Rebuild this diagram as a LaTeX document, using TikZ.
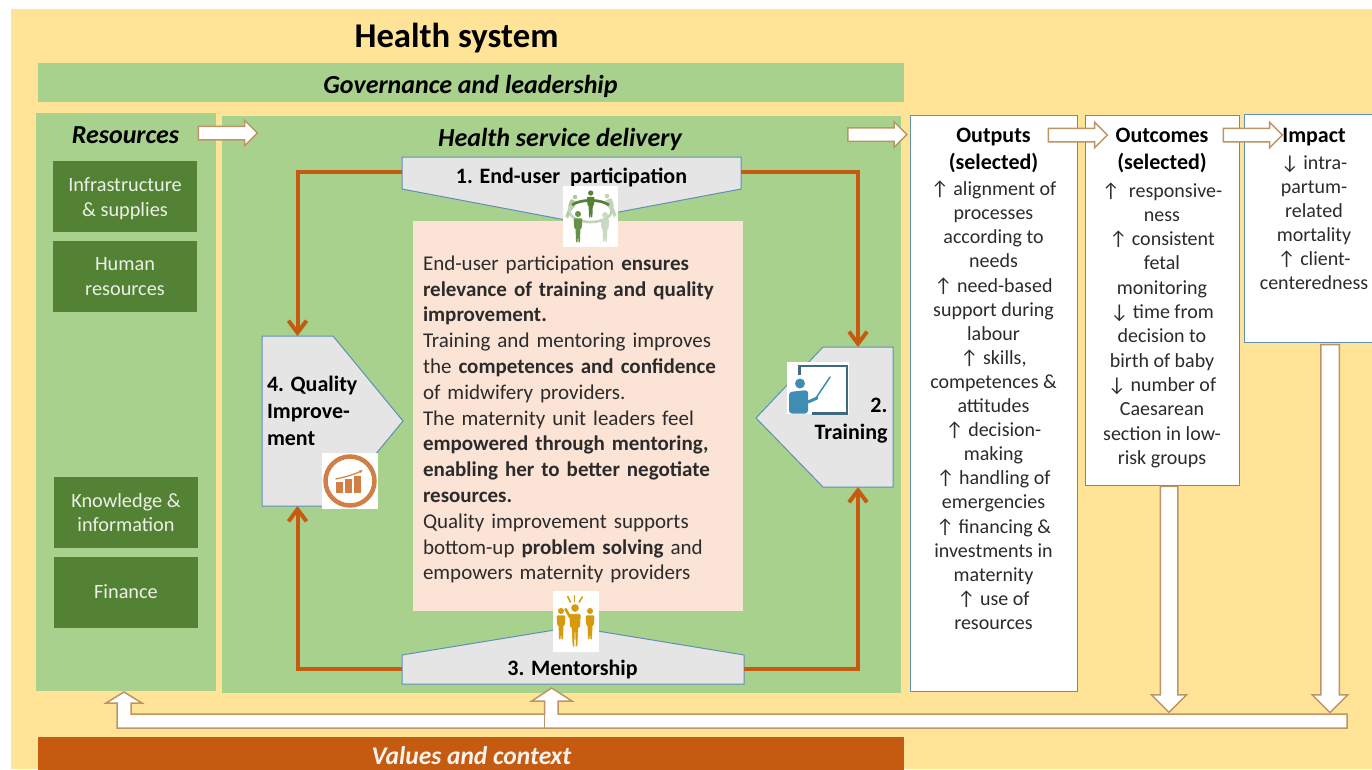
\documentclass[tikz,border=0pt]{standalone}
\usepackage{fontspec}
\setmainfont{Carlito}
\usetikzlibrary{positioning, arrows.meta, shapes.arrows}
\definecolor{sysyellow}{HTML}{FFE396}
\definecolor{lightgreen}{HTML}{A9D18E}
\definecolor{darkgreen}{HTML}{548235}
\definecolor{burnt}{HTML}{C55A11}
\definecolor{peach}{HTML}{FBE3D6}
\definecolor{stagegray}{HTML}{E5E5E5}
\definecolor{edgeblue}{HTML}{5F8FB5}
\definecolor{arrowtan}{HTML}{BD9466}
\definecolor{inktext}{HTML}{2B2B2B}
\definecolor{gold}{HTML}{D69A0A}
\definecolor{qualorange}{HTML}{D17F45}
\definecolor{boardblue}{HTML}{3E6A80}
\definecolor{teacherblue}{HTML}{3F8DB2}
\newcommand{\cellbox}[3]{\begin{minipage}[c][#1pt][t]{#2pt}\centering #3\end{minipage}}
\newcommand{\heading}[1]{{\fontsize{22}{27}\selectfont\bfseries\color{black}#1}}
\tikzset{
    panel/.style={fill=lightgreen,inner sep=0pt,outer sep=0pt},
    resource/.style={fill=darkgreen,text=white!88!darkgreen,align=center,inner sep=0pt,minimum width=144pt,minimum height=71pt,font=\fontsize{20.3}{24.6}\selectfont},
    paneltitle/.style={font=\fontsize{26}{30}\selectfont\bfseries\itshape,inner sep=0pt},
    stagename/.style={font=\fontsize{22}{27}\selectfont\bfseries,inner sep=0pt,outer sep=0pt},
    stagecorner/.style={inner sep=0pt,outer sep=0pt},
    stageshape/.style={fill=stagegray,draw=edgeblue,line width=1pt},
    cycleline/.style={draw=burnt,line width=4pt,-{Straight Barb[length=12pt,width=18pt]}},
    resultbox/.style={draw=edgeblue,fill=white,line width=1pt,inner sep=0pt,outer sep=0pt,text=inktext,font=\fontsize{20}{24.1}\selectfont},
    blockarrow/.style={single arrow,single arrow head extend=6pt,draw=arrowtan,fill=white,line width=1.5pt,inner sep=6pt,minimum height=59pt},
    person/.pic={
        \path[pic actions] (0,0) circle (3.2);
        \path[pic actions,rounded corners=1] (-4.6,4.6) -- (4.6,4.6) -- (4,15) -- (2.6,15) -- (2,30) -- (0.4,30) -- (0,18) -- (-0.4,30) -- (-2,30) -- (-2.6,15) -- (-4,15) -- cycle;
    },
}
\begin{document}
\begin{tikzpicture}[x=1pt,y=-1pt]
    \useasboundingbox (0,0) rectangle (1372,769);
    \clip (0,0) rectangle (1372,769);
    \fill[sysyellow] (11,9) rectangle (1372,769);
    \node[font=\fontsize{34.7}{38}\selectfont\bfseries,inner sep=0pt,text=black] (system) at (456.5,38.5) {Health system};
    \node[panel,minimum width=866pt,minimum height=39pt] (governance) at (471,82.5) {};
    \node[paneltitle] (govtitle) at (470.5,86) {Governance and leadership};

    \node[panel,minimum width=180pt,minimum height=578pt] (resources) at (126,402) {};
    \node[panel,minimum width=679pt,minimum height=577pt] (delivery) at (561.5,404.5) {};
    \node[paneltitle] (restitle) at (125.5,135.5) {Resources};
    \node[paneltitle] (deltitle) at (560,139) {Health service delivery};
    \node[resource] (infra) at (125,196) {\rule{0pt}{19pt}Infrastructure\\\& supplies};
    \node[resource] (human) at (125,276.5) {Human\\resources};
    \node[resource] (knowledge) at (126,512.5) {Knowledge \&\\information};
    \node[resource] (finance) at (126,592) {Finance};

    % stage shapes
    \draw[stageshape] (402,157) -- (741,157) -- (741,189) -- (571,221) -- (402,189) -- cycle;
    \draw[stageshape] (262,336) -- (333,336) -- (403,421) -- (333,506) -- (262,506) -- cycle;
    \draw[stageshape] (893,347) -- (823,347) -- (756,418) -- (823,487) -- (893,487) -- cycle;
    \draw[stageshape] (402,684) -- (744,684) -- (744,655) -- (573,627) -- (402,655) -- cycle;
    \node[stagename,minimum width=339pt,minimum height=32pt] (participation) at (571.5,177) {1. End-user\ \ participation};
    \node[stagename,minimum width=342pt,minimum height=29pt] (mentorship) at (572.5,669) {3. Mentorship};
    \node[stagecorner,minimum width=71pt,minimum height=170pt] (quality) at (297.5,421) {};
    \node[stagecorner,minimum width=70pt,minimum height=140pt] (training) at (858,417) {};
    \node[stagename,align=left,anchor=north west] (qualitytext) at (267,376) {4. Quality\\Improve-\\ment};
    \node[stagename,align=right,anchor=north east] (trainingtext) at (887.5,398) {2.\\Training};

    \draw[cycleline] (participation.west |- 0,172) -| (quality.north);
    \draw[cycleline] (participation.east |- 0,172) -| (training.north);
    \draw[cycleline] (mentorship.west |- 0,669) -| (quality.south);
    \draw[cycleline] (mentorship.east |- 0,669) -| (training.south);

    \node[fill=peach,text=inktext,inner xsep=10pt,inner ysep=0pt,text width=310pt,minimum height=390pt,align=left,font=\fontsize{21}{25.8}\selectfont] (summary) at (578,416) {\rule{0pt}{21.5pt}End-user participation \textbf{ensures}\\\textbf{relevance of training and quality}\\\textbf{improvement.}\\Training and mentoring improves\\the \textbf{competences and confidence}\\of midwifery providers.\\The maternity unit leaders feel\\\textbf{empowered through mentoring,}\\\textbf{enabling her to better negotiate}\\\textbf{resources.}\\Quality improvement supports\\bottom-up \textbf{problem solving} and\\empowers maternity providers};

    % icons
    \fill[white] (563,186) rectangle (618,247);
    \pic[fill=darkgreen!45,scale=.75,rotate=-22] at (575,197) {person};
    \pic[fill=darkgreen!35,scale=.75,rotate=22] at (607,196) {person};
    \draw[darkgreen!35,line width=2.6pt] (590.5,211) ellipse [x radius=21,y radius=11];
    \pic[fill=darkgreen!80!lightgreen,scale=.95] at (578,214) {person};
    \pic[fill=darkgreen!30,scale=.9] at (605,215) {person};
    \draw[darkgreen,line width=2.6pt] (572,205) .. controls (580,199) and (601,199) .. (609,205);
    \pic[fill=darkgreen,scale=.82] at (590.7,193) {person};

    \fill[white] (322,453) rectangle (378,509);
    \draw[qualorange,line width=4.5pt] (350,481) circle (24.5);
    \foreach \barx/\bartop in {335.5/482,344.5/479,353.5/476}
        \fill[qualorange] (\barx,\bartop) rectangle (\barx+7.5,493.3);
    \draw[qualorange,line width=1.2pt,-{Latex[length=4pt]}] (335.5,479) .. controls (346,477) and (355,474) .. (363.5,470);

    \fill[white] (787,362) rectangle (849,414);
    \draw[boardblue,line width=2.4pt] (799.5,375) |- (847,366) |- (812,413.5);
    \fill[teacherblue] (800,383.5) circle (5);
    \fill[teacherblue,rounded corners=3pt] (789,413.5) -- (789,392) -- (808,390) -- (808,413.5) -- cycle;
    \draw[teacherblue,line width=3pt,line cap=round] (808,402) -- (817,398);
    \draw[teacherblue,line width=1.5pt,line cap=round] (816,398) -- (830,377);

    \fill[white] (553,591) rectangle (599,652);
    \pic[fill=gold,scale=.95] at (561,611) {person};
    \pic[fill=gold,scale=.95] at (590,611) {person};
    \pic[fill=gold,scale=1.3,draw=white,line width=.4pt] at (575,608) {person};
    \draw[gold,line width=2.6pt,line cap=round] (565.5,609) -- (570,617);
    \draw[gold,line width=1.5pt] (567.5,596) -- (570.5,602.5);
    \draw[gold,line width=1.5pt] (574.5,595) -- (574.5,601.5);
    \draw[gold,line width=1.5pt] (582.5,596.5) -- (579,602.5);

    % result boxes
    \node[resultbox] (outputs) at (993.5,403) {\cellbox{576}{167}{\vspace*{13pt}\heading{Outputs}\\[3pt]\heading{(selected)}\\[2pt]↑ alignment of\\processes\\according to\\needs\\↑ need-based\\support during\\labour\\↑ skills,\\competences \&\\attitudes\\↑ decision-\\making\\↑ handling of\\emergencies\\↑ financing \&\\investments in\\maternity\\↑ use of\\resources}};
    \node[resultbox] (outcomes) at (1162,300) {\cellbox{370}{154}{\fontsize{20}{24.3}\selectfont\vspace*{13pt}\heading{Outcomes}\\[3pt]\heading{(selected)}\\[3pt]↑\ \ responsive-\\ness\\↑ consistent\\fetal\\monitoring\\↓ time from\\decision to\\birth of baby\\↓ number of\\Caesarean\\section in low-\\risk groups}};
    \node[resultbox] (impact) at (1314,228) {\cellbox{228}{140}{\vspace*{14pt}\heading{Impact}\\[3pt]↓ intra-\\partum-\\related\\mortality\\↑ client-\\centeredness}};

    % block arrows
    \node[blockarrow] (resarrow) at (224.5,133) {};
    \node[blockarrow] (delarrow) at (874,134.5) {};
    \node[blockarrow] (outarrow) at (1074.5,135) {};
    \node[blockarrow] (impactarrow) at (1249.5,135) {};
    \node[blockarrow,shape border rotate=270,minimum height=226pt,inner sep=8pt,single arrow head extend=8.75pt] (outcomedrop) at (1169,595) {};
    \node[blockarrow,shape border rotate=270,minimum height=368pt,inner sep=8.5pt,single arrow head extend=8.5pt] (impactdrop) at (1330,524) {};
    \draw[fill=white,draw=arrowtan,line width=1.5pt,line join=miter] (1347,714) -- (558,714) -- (558,701) -- (572,701) -- (551.7,688) -- (531.7,701) -- (544.7,701) -- (544.7,714) -- (131,714) -- (131,703) -- (142,703) -- (124,692) -- (106,703) -- (117,703) -- (117,728) -- (1347,728) -- cycle;
    \draw[arrowtan,line width=1.5pt] (544.7,714) -- (544.7,728);

    \node[fill=burnt,inner sep=0pt,minimum width=866pt,minimum height=33pt] (values) at (471,753) {};
    \node[paneltitle,text=white!92!burnt,font=\fontsize{25.5}{28}\selectfont\bfseries\itshape] (valuestitle) at (471.5,755.5) {Values and context};
\end{tikzpicture}
\end{document}
